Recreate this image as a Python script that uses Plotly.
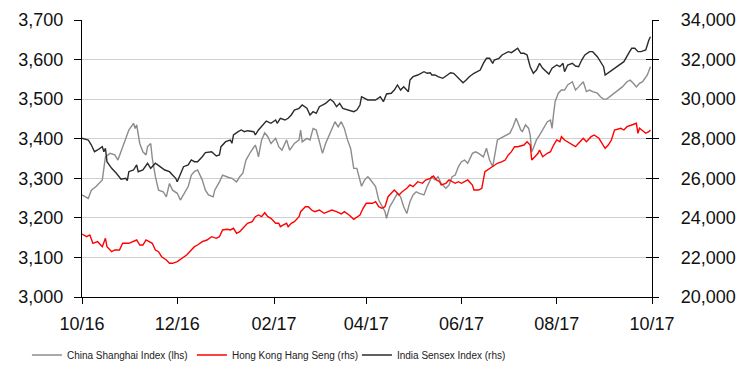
import plotly.graph_objects as go

# ---------------- data ----------------
sh_dates = ["2016-10-01","2016-10-05","2016-10-07","2016-10-10","2016-10-14","2016-10-16","2016-10-19","2016-10-22","2016-10-24","2016-10-26",
"2016-10-29","2016-10-31","2016-11-03","2016-11-04","2016-11-05","2016-11-07","2016-11-09","2016-11-11","2016-11-12","2016-11-14",
"2016-11-15","2016-11-17","2016-11-19","2016-11-22","2016-11-24","2016-11-26","2016-11-28","2016-12-01","2016-12-03","2016-12-06",
"2016-12-08","2016-12-10","2016-12-12","2016-12-14","2016-12-17","2016-12-19","2016-12-21","2016-12-24","2016-12-25","2016-12-28",
"2016-12-30","2017-01-03","2017-01-05","2017-01-08","2017-01-10","2017-01-12","2017-01-14","2017-01-17","2017-01-20","2017-01-21",
"2017-01-22","2017-01-24","2017-01-26","2017-01-28","2017-01-30","2017-02-02","2017-02-04","2017-02-06","2017-02-09","2017-02-11",
"2017-02-14","2017-02-17","2017-02-18","2017-02-19","2017-02-22","2017-02-24","2017-02-26","2017-02-28","2017-03-02","2017-03-04",
"2017-03-06","2017-03-09","2017-03-12","2017-03-14","2017-03-16","2017-03-18","2017-03-20","2017-03-22","2017-03-24","2017-03-26",
"2017-03-29","2017-03-31","2017-04-02","2017-04-03","2017-04-07","2017-04-09","2017-04-11","2017-04-13","2017-04-14","2017-04-16",
"2017-04-18","2017-04-21","2017-04-23","2017-04-25","2017-04-27","2017-04-29","2017-05-01","2017-05-03","2017-05-05","2017-05-08",
"2017-05-10","2017-05-13","2017-05-15","2017-05-17","2017-05-19","2017-05-22","2017-05-24","2017-05-26","2017-05-28","2017-05-30",
"2017-06-01","2017-06-03","2017-06-05","2017-06-08","2017-06-10","2017-06-12","2017-06-15","2017-06-17","2017-06-19","2017-06-21",
"2017-06-24","2017-06-26","2017-06-28","2017-07-02","2017-07-04","2017-07-06","2017-07-09","2017-07-10","2017-07-12","2017-07-14",
"2017-07-15","2017-07-16","2017-07-17","2017-07-19","2017-07-21","2017-07-23","2017-07-26","2017-07-28","2017-07-29","2017-07-30",
"2017-07-31","2017-08-02","2017-08-04","2017-08-06","2017-08-08","2017-08-11","2017-08-13","2017-08-15","2017-08-18","2017-08-20",
"2017-08-22","2017-08-24","2017-08-27","2017-08-29","2017-08-31","2017-09-02","2017-09-05","2017-09-08","2017-09-12","2017-09-15",
"2017-09-17","2017-09-19","2017-09-21","2017-09-23","2017-09-25","2017-09-28","2017-09-30"]
sh_values = [3258,3249,3270,3279,3296,3354,3363,3359,3346,3367,
3401,3422,3439,3426,3435,3388,3367,3359,3380,3388,
3351,3304,3270,3266,3253,3287,3270,3262,3245,3266,
3279,3308,3317,3321,3296,3270,3258,3253,3270,3291,
3308,3302,3300,3291,3304,3313,3346,3367,3384,3371,
3354,3397,3415,3405,3388,3401,3380,3371,3397,3371,
3388,3397,3422,3392,3401,3397,3426,3422,3392,3363,
3388,3414,3443,3430,3443,3426,3397,3376,3325,3325,
3280,3296,3304,3300,3279,3245,3232,3216,3199,3228,
3241,3262,3253,3228,3211,3241,3258,3266,3262,3258,
3279,3304,3296,3304,3287,3275,3283,3304,3308,3329,
3342,3346,3338,3363,3367,3363,3354,3376,3346,3329,
3397,3401,3405,3414,3430,3452,3422,3418,3435,3426,
3409,3367,3376,3397,3409,3422,3443,3447,3426,3464,
3494,3515,3523,3523,3536,3544,3523,3531,3544,3519,
3523,3519,3515,3506,3500,3500,3510,3519,3531,3544,
3548,3540,3531,3540,3544,3561,3582]

hk_dates = ["2016-10-01","2016-10-04","2016-10-06","2016-10-08","2016-10-11","2016-10-14","2016-10-16","2016-10-17","2016-10-20","2016-10-22",
"2016-10-25","2016-10-27","2016-10-31","2016-11-02","2016-11-05","2016-11-07","2016-11-09","2016-11-11","2016-11-15","2016-11-17",
"2016-11-19","2016-11-21","2016-11-24","2016-11-26","2016-11-28","2016-12-01","2016-12-04","2016-12-07","2016-12-10","2016-12-12",
"2016-12-14","2016-12-17","2016-12-20","2016-12-23","2016-12-26","2016-12-28","2016-12-30","2017-01-02","2017-01-04","2017-01-06",
"2017-01-08","2017-01-10","2017-01-12","2017-01-15","2017-01-18","2017-01-20","2017-01-22","2017-01-24","2017-01-26","2017-01-28",
"2017-01-30","2017-02-02","2017-02-04","2017-02-05","2017-02-07","2017-02-09","2017-02-10","2017-02-12","2017-02-14","2017-02-17",
"2017-02-18","2017-02-21","2017-02-23","2017-02-25","2017-02-27","2017-03-02","2017-03-05","2017-03-08","2017-03-10","2017-03-13",
"2017-03-16","2017-03-18","2017-03-21","2017-03-24","2017-03-26","2017-03-28","2017-03-30","2017-04-01","2017-04-05","2017-04-07",
"2017-04-09","2017-04-11","2017-04-13","2017-04-15","2017-04-17","2017-04-19","2017-04-22","2017-04-24","2017-04-27","2017-04-29",
"2017-05-01","2017-05-04","2017-05-07","2017-05-09","2017-05-12","2017-05-14","2017-05-16","2017-05-18","2017-05-19","2017-05-22",
"2017-05-24","2017-05-26","2017-05-28","2017-05-30","2017-06-01","2017-06-03","2017-06-05","2017-06-08","2017-06-09","2017-06-12",
"2017-06-14","2017-06-16","2017-06-19","2017-06-21","2017-06-24","2017-06-27","2017-06-29","2017-07-01","2017-07-03","2017-07-05",
"2017-07-07","2017-07-11","2017-07-13","2017-07-15","2017-07-16","2017-07-18","2017-07-20","2017-07-21","2017-07-23","2017-07-26",
"2017-07-28","2017-07-30","2017-08-01","2017-08-03","2017-08-04","2017-08-06","2017-08-08","2017-08-11","2017-08-13","2017-08-15",
"2017-08-18","2017-08-20","2017-08-23","2017-08-25","2017-08-28","2017-08-30","2017-09-01","2017-09-03","2017-09-05","2017-09-07",
"2017-09-11","2017-09-13","2017-09-15","2017-09-18","2017-09-21","2017-09-22","2017-09-23","2017-09-27","2017-09-29","2017-09-30"]
hk_values = [23184,23048,23134,22714,22796,22543,22967,22543,22290,22376,
22376,22714,22714,22796,22881,22628,22628,22881,22714,22376,
22290,22037,21870,21703,21703,21785,21956,22123,22376,22543,
22628,22796,22881,23048,22967,23048,23387,23420,23387,23472,
23220,23300,23472,23725,23806,24058,24145,24058,24260,24058,
23978,23725,23725,23553,23640,23725,23553,23725,23806,24058,
24311,24564,24564,24397,24311,24397,24230,24311,24397,24311,
24195,24311,24145,23927,24058,24145,24483,24736,24736,24817,
24564,24483,24564,25070,25241,25408,25156,25322,25494,25661,
25575,25828,25747,25914,26000,26116,25914,25828,25661,25747,
25914,25828,25747,25828,25747,25828,25914,25661,25408,25408,
25494,26333,26505,26586,26758,26839,26924,27177,27344,27597,
27597,27682,27850,27682,26924,27091,27263,27430,27091,27263,
27344,27682,27935,27850,28103,27935,27850,27682,27597,27768,
28021,27850,28103,28188,28021,27768,27516,27682,27935,28441,
28527,28441,28608,28693,28779,28274,28527,28274,28355,28441]

in_dates = ["2016-10-01","2016-10-05","2016-10-07","2016-10-09","2016-10-11","2016-10-14","2016-10-15","2016-10-16","2016-10-17","2016-10-20",
"2016-10-23","2016-10-26","2016-10-29","2016-10-30","2016-10-31","2016-11-03","2016-11-05","2016-11-06","2016-11-09","2016-11-12",
"2016-11-14","2016-11-17","2016-11-20","2016-11-23","2016-11-26","2016-11-30","2016-12-01","2016-12-03","2016-12-05","2016-12-08",
"2016-12-10","2016-12-12","2016-12-14","2016-12-17","2016-12-19","2016-12-23","2016-12-25","2016-12-26","2016-12-28","2016-12-29",
"2017-01-01","2017-01-04","2017-01-05","2017-01-06","2017-01-09","2017-01-11","2017-01-13","2017-01-15","2017-01-19","2017-01-20",
"2017-01-22","2017-01-25","2017-01-27","2017-01-30","2017-02-02","2017-02-03","2017-02-05","2017-02-08","2017-02-10","2017-02-12",
"2017-02-14","2017-02-17","2017-02-19","2017-02-22","2017-02-24","2017-02-26","2017-02-28","2017-03-02","2017-03-06","2017-03-09",
"2017-03-11","2017-03-13","2017-03-15","2017-03-17","2017-03-21","2017-03-24","2017-03-26","2017-03-28","2017-03-29","2017-03-31",
"2017-04-02","2017-04-07","2017-04-10","2017-04-12","2017-04-14","2017-04-17","2017-04-19","2017-04-21","2017-04-23","2017-04-25",
"2017-04-26","2017-04-28","2017-04-29","2017-05-01","2017-05-04","2017-05-08","2017-05-10","2017-05-12","2017-05-13","2017-05-15",
"2017-05-17","2017-05-20","2017-05-23","2017-05-25","2017-05-27","2017-05-29","2017-05-31","2017-06-02","2017-06-04","2017-06-06",
"2017-06-09","2017-06-11","2017-06-13","2017-06-15","2017-06-17","2017-06-19","2017-06-21","2017-06-22","2017-06-25","2017-06-27",
"2017-06-29","2017-07-01","2017-07-03","2017-07-05","2017-07-07","2017-07-09","2017-07-11","2017-07-13","2017-07-15","2017-07-17",
"2017-07-19","2017-07-21","2017-07-23","2017-07-27","2017-07-29","2017-08-01","2017-08-03","2017-08-05","2017-08-06","2017-08-08",
"2017-08-11","2017-08-13","2017-08-15","2017-08-17","2017-08-19","2017-08-22","2017-08-24","2017-08-27","2017-08-29","2017-08-31",
"2017-09-01","2017-09-04","2017-09-07","2017-09-11","2017-09-13","2017-09-16","2017-09-18","2017-09-20","2017-09-22","2017-09-24",
"2017-09-27","2017-09-29","2017-09-30"]
in_values = [28021,27935,27682,27344,27430,27597,27344,27516,26839,26505,
26252,25949,26000,25878,26333,26419,26672,26333,26419,26758,
26505,26758,26586,26419,26333,26000,25828,26166,26586,26672,
26924,26839,26839,27091,27294,27344,27177,27126,27177,27597,
27850,27935,27768,28188,28355,28441,28355,28405,28355,28188,
28441,28693,28895,28779,28946,28779,29032,28946,29032,29199,
29451,29537,29704,29537,29199,29366,29285,29618,29790,29992,
29871,29618,29790,29537,29451,29366,29451,29704,30124,30043,
29957,29957,30124,29871,30260,30295,30462,30715,30462,30630,
30547,30376,30968,31134,31220,31387,31306,31336,31220,31220,
31134,31053,31220,31336,31306,31134,30968,30832,30968,31134,
31306,31387,31473,31810,32064,32064,31810,31978,32064,32231,
32317,32400,32350,32484,32570,32317,32317,32231,31640,31306,
31473,31810,31560,31270,31560,31726,31640,31810,31387,31726,
31810,31675,31640,31978,32231,32400,32400,32146,31893,31640,
31220,31387,31560,31810,31893,32317,32570,32570,32400,32400,
32484,32990,33156]

series_names = ["China Shanghai Index (lhs)", "Hong Kong Hang Seng (rhs)", "India Sensex Index (rhs)"]
series_colors = ["#8c8c8c", "#ff0000", "#2b2b2b"]

x_tickvals = ["2016-10-01","2016-12-01","2017-02-01","2017-04-01","2017-06-01","2017-08-01","2017-10-01"]
x_ticktext = ["10/16","12/16","02/17","04/17","06/17","08/17","10/17"]

# ---------------- figure ----------------
FONT = "Liberation Sans, Arial, sans-serif"
fig = go.Figure()
fig.add_trace(go.Scatter(x=sh_dates, y=sh_values, name=series_names[0], mode="lines",
                         line=dict(color=series_colors[0], width=1.4), yaxis="y"))
fig.add_trace(go.Scatter(x=hk_dates, y=hk_values, name=series_names[1], mode="lines",
                         line=dict(color=series_colors[1], width=1.4), yaxis="y2"))
fig.add_trace(go.Scatter(x=in_dates, y=in_values, name=series_names[2], mode="lines",
                         line=dict(color=series_colors[2], width=1.4), yaxis="y2"))

fig.update_layout(
    width=748, height=369,
    margin=dict(l=82, r=96, t=20, b=72),
    paper_bgcolor="white", plot_bgcolor="white",
    font=dict(family=FONT, size=18, color="#111"),
    showlegend=True,
    legend=dict(orientation="h", xref="container", x=0.036, xanchor="left",
                yref="container", y=0.038, yanchor="middle",
                font=dict(family="Liberation Sans, Arial, sans-serif", size=10, color="#222"),
                entrywidth=120, entrywidthmode="pixels", bgcolor="rgba(0,0,0,0)"),
    xaxis=dict(type="date", range=["2016-10-01", "2017-10-01"], tickvals=x_tickvals, ticktext=x_ticktext,
               ticks="outside", ticklen=6, tickwidth=1.3, tickcolor="black",
               showline=True, linecolor="black", linewidth=1.3, showgrid=False, zeroline=False,
               tickfont=dict(size=18, color="#111"), automargin=False, ticklabelstandoff=4),
    yaxis=dict(range=[3000, 3700], dtick=100, tickformat=",", ticks="outside", ticklen=7, tickwidth=1.3,
               tickcolor="black", showline=True, linecolor="black", linewidth=1.3,
               showgrid=True, gridcolor="#d0d0d0", gridwidth=1.4, zeroline=False,
               tickfont=dict(size=18, color="#111"), automargin=False, ticklabelstandoff=7),
    yaxis2=dict(range=[20000, 34000], dtick=2000, tickformat=",", overlaying="y", side="right", anchor="x",
                ticks="outside", ticklen=6, tickwidth=1.3, tickcolor="black",
                showline=True, linecolor="black", linewidth=1.3, showgrid=False, zeroline=False,
                tickfont=dict(size=18, color="#111"), automargin=False, ticklabelstandoff=18),
    yaxis3=dict(range=[20000, 34000], dtick=2000, overlaying="y", side="right", anchor="x",
                ticks="inside", ticklen=6, tickwidth=1.3, tickcolor="black",
                showticklabels=False, showline=False, showgrid=False, zeroline=False, automargin=False),
)
# invisible helper trace so the inside-tick axis is drawn
fig.add_trace(go.Scatter(x=[sh_dates[0]], y=[in_values[0]], yaxis="y3", mode="lines",
                         showlegend=False, hoverinfo="skip", line=dict(width=0)))

fig.write_html("out.html")
